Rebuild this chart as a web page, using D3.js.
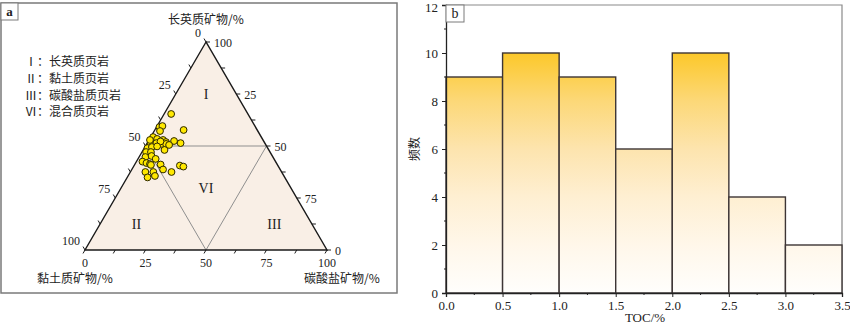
<!DOCTYPE html>
<html><head><meta charset="utf-8">
<script src="https://cdn.jsdelivr.net/npm/d3@7"></script>
<style>
body{margin:0;background:#fff;}
svg{display:block;}
text{font-family:"Liberation Serif","Noto Sans CJK SC",serif;fill:#222;}
.cjk{font-family:"Noto Sans CJK SC","Liberation Serif",serif;}
</style></head>
<body>
<script>
// ---------- DATA ----------
// Panel a: ternary composition (%) of samples
const quartz    = [65.4,59.1,59.6,57.2,57.7,54.3,53.4,52.9,51.9,52.4,51.4,51.4,51.4,51.0,51.0,52.2,49.0,49.5,49.8,48.1,47.1,47.1,44.7,45.2,43.8,42.5,41.8,41.3,41.1,38.7,37.5,40.6,40.1,37.5,37.5,34.9,35.6,40.9,50.5,52.9];
const carbonate = [2.9,1.2,2.2,2.4,11.9,1.0,3.1,5.8,7.5,10.6,13.8,1.4,3.8,6.3,8.0,5.1,1.3,2.9,4.9,8.8,1.7,3.7,2.6,4.9,7.3,2.5,4.5,6.2,10.7,12.9,17.0,18.9,20.6,6.2,9.5,8.4,11.1,6.8,9.5,0.4];
const clay      = quartz.map((q,i)=>+(100-q-carbonate[i]).toFixed(1));
const ternTicks = [0,12.5,25,37.5,50,62.5,75,87.5,100];
const bottomLabels = [0,25,50,75,100];
const leftLabels   = ["0","25","50","75","100"];      // clay, top -> bottom-left
const rightLabels  = ["100","25","50","75","0"];      // as printed, top -> bottom-right
const legendItems  = ["Ⅰ：长英质页岩","Ⅱ：黏土质页岩","Ⅲ：碳酸盐质页岩","Ⅵ：混合质页岩"];
const regionNames  = ["I","II","III","VI"];

// Panel b: TOC histogram
const tocBins   = [0,0.5,1.0,1.5,2.0,2.5,3.0];
const binWidth  = 0.5;
const tocCounts = [9,10,9,6,10,4,2];
const yTicksB   = [0,2,4,6,8,10,12];
const xTicksB   = [0,0.5,1.0,1.5,2.0,2.5,3.0,3.5];

// ---------- SVG ----------
const W=850,H=327;
const svg=d3.select("body").append("svg").attr("width",W).attr("height",H);

// ===== Panel a =====
const gA=svg.append("g");
gA.append("rect").attr("x",1).attr("y",3).attr("width",396).attr("height",290)
  .attr("fill","#fff").attr("stroke","#7a7a7a").attr("stroke-width",1.5);
gA.append("rect").attr("x",1).attr("y",3).attr("width",17).attr("height",17)
  .attr("fill","#fff").attr("stroke","#7a7a7a").attr("stroke-width",1);
gA.append("text").attr("x",9.5).attr("y",16).attr("text-anchor","middle")
  .attr("font-size",13).attr("font-weight","bold").text("a");

// ternary scales: x along base (carbonate + quartz/2), y by quartz
const xBase=d3.scaleLinear().domain([0,100]).range([85,327]);
const yQ=d3.scaleLinear().domain([0,100]).range([250,42]);
const P=(q,k)=>[xBase(k+q/2),yQ(q)];

const top_=P(100,0),bl=P(0,0),br=P(0,100);
gA.append("path").attr("d",d3.line()([top_,bl,br,top_])+"Z")
  .attr("fill","#f9efe6").attr("stroke","none");

// inner (medial) lines
const mL=P(50,0),mR=P(50,50),mB=P(0,50);
gA.append("path").attr("d",d3.line()([mL,mR,mB,mL])+"Z")
  .attr("fill","none").attr("stroke","#8f8f8f").attr("stroke-width",1);

// edges
gA.append("path").attr("d",d3.line()([top_,bl,br,top_])+"Z")
  .attr("fill","none").attr("stroke","#1a1a1a").attr("stroke-width",1.4).attr("stroke-linejoin","miter");

// ticks
const tl=4;
const tk=gA.append("g").attr("stroke","#1a1a1a").attr("stroke-width",1);
ternTicks.forEach(t=>{
  let p=P(0,t); tk.append("line").attr("x1",p[0]).attr("y1",p[1]).attr("x2",p[0]-0.5*tl).attr("y2",p[1]+0.866*tl);
  p=P(100-t,0); tk.append("line").attr("x1",p[0]).attr("y1",p[1]).attr("x2",p[0]-0.5*tl).attr("y2",p[1]-0.866*tl);
  p=P(100-t,t); tk.append("line").attr("x1",p[0]).attr("y1",p[1]).attr("x2",p[0]+tl).attr("y2",p[1]);
});

// tick labels
bottomLabels.forEach(t=>{
  const p=P(0,t);
  gA.append("text").attr("x",p[0]).attr("y",p[1]+13).attr("dy","0.35em").attr("text-anchor","middle")
    .attr("font-size",12).text(t);
});
[0,25,50,75,100].forEach((t,i)=>{
  const p=P(100-t,0);
  gA.append("text").attr("x",p[0]-5).attr("y",p[1]-9).attr("dy","0.35em").attr("text-anchor","end")
    .attr("font-size",12).text(leftLabels[i]);
  const r=P(100-t,t);
  gA.append("text").attr("x",r[0]+8).attr("y",r[1]+1).attr("dy","0.35em").attr("text-anchor","start")
    .attr("font-size",12).text(rightLabels[i]);
});

// axis titles
gA.append("text").attr("class","cjk").attr("x",206).attr("y",20).attr("dy","0.35em").attr("text-anchor","middle")
  .attr("font-size",12).text("长英质矿物/%");
gA.append("text").attr("class","cjk").attr("x",75).attr("y",279).attr("dy","0.35em").attr("text-anchor","middle")
  .attr("font-size",12).text("黏土质矿物/%");
gA.append("text").attr("class","cjk").attr("x",342).attr("y",279).attr("dy","0.35em").attr("text-anchor","middle")
  .attr("font-size",12).text("碳酸盐矿物/%");

// legend
legendItems.forEach((s,i)=>{
  gA.append("text").attr("class","cjk").attr("x",25).attr("y",62+i*16.7).attr("dy","0.35em")
    .attr("font-size",12).attr("fill","#222").text(s);
});

// region labels
const regionPos=[P(75,12.5),P(12.5,15),P(12.5,72),P(30,35)];
regionNames.forEach((s,i)=>{
  gA.append("text").attr("x",regionPos[i][0]).attr("y",regionPos[i][1]).attr("dy","0.35em")
    .attr("text-anchor","middle").attr("font-size",14).attr("fill","#333").text(s);
});

// points
gA.append("g").selectAll("circle").data(quartz.map((q,i)=>({q,k:carbonate[i],c:clay[i]})))
  .join("circle")
  .attr("cx",d=>P(d.q,d.k)[0]).attr("cy",d=>P(d.q,d.k)[1]).attr("r",3.4)
  .attr("fill","#ffe800").attr("stroke","#2b2600").attr("stroke-width",1);

// ===== Panel b =====
const gB=svg.append("g");
const x=d3.scaleLinear().domain([0,3.5]).range([446,842]);
const y=d3.scaleLinear().domain([0,12]).range([293,5]);

const defs=svg.append("defs");
const grad=defs.append("linearGradient").attr("id","barGrad").attr("gradientUnits","userSpaceOnUse")
  .attr("x1",0).attr("x2",0).attr("y1",y(10)).attr("y2",y(0));
[[0,"#fcc82a"],[0.2,"#fcd878"],[0.4,"#fde4ae"],[0.6,"#feefd2"],[0.8,"#fff7ea"],[1,"#fffefc"]]
  .forEach(([o,c])=>grad.append("stop").attr("offset",o).attr("stop-color",c));

// frame top/right
gB.append("path").attr("d",`M${x(0)},${y(12)}H${x(3.5)}V${y(0)}`)
  .attr("fill","none").attr("stroke","#8a8a8a").attr("stroke-width",1.2);

// bars
gB.append("g").selectAll("rect").data(tocBins.map((b,i)=>({b,v:tocCounts[i]})))
  .join("rect")
  .attr("x",d=>x(d.b)).attr("width",d=>x(d.b+binWidth)-x(d.b))
  .attr("y",d=>y(d.v)).attr("height",d=>y(0)-y(d.v))
  .attr("fill","url(#barGrad)").attr("stroke","#3d3535").attr("stroke-width",1.4);

// axes
const yAxis=d3.axisLeft(y).tickValues(yTicksB).tickSize(4).tickPadding(4).tickFormat(d3.format("d"));
const gy=gB.append("g").attr("transform",`translate(${x(0)},0)`).call(yAxis);
const xAxis=d3.axisBottom(x).tickValues(xTicksB).tickSize(4).tickPadding(4).tickFormat(d3.format(".1f"));
const gx=gB.append("g").attr("transform",`translate(0,${y(0)})`).call(xAxis);
[gy,gx].forEach(g=>{
  g.select(".domain").attr("stroke","#222").attr("stroke-width",1.3);
  g.selectAll(".tick line").attr("stroke","#222");
  g.selectAll(".tick text").attr("font-size",13).attr("fill","#222");
});
gy.selectAll(".tick text").filter(d=>d===12).attr("dy","0.5em");
// minor ticks
const yMinor=d3.range(1,12,2);
gB.append("g").selectAll("line").data(yMinor).join("line")
  .attr("x1",x(0)).attr("x2",x(0)-2).attr("y1",d=>y(d)).attr("y2",d=>y(d)).attr("stroke","#222");
const xMinor=d3.range(0.25,3.5,0.5);
gB.append("g").selectAll("line").data(xMinor).join("line")
  .attr("y1",y(0)).attr("y2",y(0)+2).attr("x1",d=>x(d)).attr("x2",d=>x(d)).attr("stroke","#222");

// "b" box
gB.append("rect").attr("x",x(0)).attr("y",y(12)).attr("width",18).attr("height",17)
  .attr("fill","#fff").attr("stroke","#7a7a7a").attr("stroke-width",1);
gB.append("text").attr("x",x(0)+9).attr("y",y(12)+13).attr("text-anchor","middle").attr("font-size",14).text("b");

// titles
gB.append("text").attr("x",645).attr("y",322).attr("text-anchor","middle").attr("font-size",13).text("TOC/%");
gB.append("text").attr("class","cjk").attr("transform","translate(419,149) rotate(-90)")
  .attr("text-anchor","middle").attr("font-size",12).text("频数");
</script>
</body></html>
